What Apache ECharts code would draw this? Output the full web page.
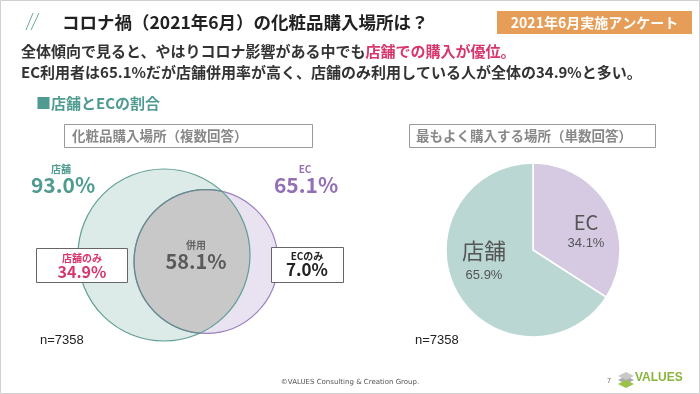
<!DOCTYPE html>
<html><head><meta charset="utf-8">
<script src="https://cdn.jsdelivr.net/npm/echarts@6/dist/echarts.min.js"></script>
<style>html,body{margin:0;padding:0;background:#fff}#c{width:700px;height:394px}</style>
</head><body><div id="c"></div>
<script>
// ---- data ----
const vennLabels = ['店舗', 'EC', '併用', '店舗のみ', 'ECのみ'];
const vennValues = [93.0, 65.1, 58.1, 34.9, 7.0];   // 店舗 total, EC total, overlap, store only, EC only
const pieCategories = ['EC', '店舗'];
const pieValues = [34.1, 65.9];
const sampleSize = 7358;

const JP = '"Noto Sans CJK JP","Noto Sans",sans-serif';
const chart = echarts.init(document.getElementById('c'));

// Venn geometry: circle areas proportional to the totals
const R = 86;
const r = R * Math.sqrt(vennValues[1] / vennValues[0]);
const dist = 42.5;           // layout distance between circle centres
const tilt = 8.8 * Math.PI / 180;

function renderVenn(params, api) {
  const c1 = [164, 255];
  const th = tilt;
  const c2 = [c1[0] + dist * Math.cos(th), c1[1] + dist * Math.sin(th)];
  const a1 = Math.acos((dist*dist + R*R - r*r) / (2*dist*R));
  const a2 = Math.acos((dist*dist + r*r - R*R) / (2*dist*r));
  const bigArc = [], smallArc = [];
  const N = 90;
  for (let i = 0; i <= N; i++) {
    const a = th - a1 + 2*a1*i/N;
    bigArc.push([c1[0] + R*Math.cos(a), c1[1] + R*Math.sin(a)]);
  }
  for (let i = 0; i <= N; i++) {
    const a = th + Math.PI - a2 + 2*a2*i/N;
    smallArc.push([c2[0] + r*Math.cos(a), c2[1] + r*Math.sin(a)]);
  }
  return {
    type: 'group',
    children: [
      {type: 'circle', shape: {cx: c1[0], cy: c1[1], r: R}, style: {fill: '#dcebe8', stroke: null}},
      {type: 'circle', shape: {cx: c2[0], cy: c2[1], r: r}, style: {fill: '#e9e2f0', stroke: null}},
      {type: 'polygon', shape: {points: bigArc.concat(smallArc)}, style: {fill: '#c8c8c8', stroke: null}},
      {type: 'circle', shape: {cx: c2[0], cy: c2[1], r: r}, style: {fill: null, stroke: '#9b80bd', lineWidth: 1.2}},
      {type: 'circle', shape: {cx: c1[0], cy: c1[1], r: R}, style: {fill: null, stroke: '#5f9f95', lineWidth: 1.2}},
      {type: 'polyline', shape: {points: smallArc}, style: {fill: null, stroke: '#5f8f89', lineWidth: 1.2}}
    ]
  };
}

function txt(x, y, text, size, color, weight, align, family) {
  return {type: 'text', z: 10, x: x, y: y, style: {text: text, font: (weight||'normal') + ' ' + size + 'px ' + (family||JP), fill: color, align: align||'left', verticalAlign: 'middle'}};
}
function box(x, y, w, h, stroke) {
  return {type: 'rect', z: 9, shape: {x: x, y: y, width: w, height: h}, style: {fill: '#fff', stroke: stroke, lineWidth: 1}};
}

const graphics = [
  {type: 'rect', z: 0, shape: {x: 0.5, y: 0.5, width: 699, height: 393}, style: {fill: null, stroke: '#d0d0d0', lineWidth: 1}},
  // title
  {type: 'polyline', z: 10, shape: {points: [[26, 30], [33, 13]]}, style: {stroke: '#6aa9a0', lineWidth: 1}},
  {type: 'polyline', z: 10, shape: {points: [[31, 30], [39, 13]]}, style: {stroke: '#6aa9a0', lineWidth: 1}},
  txt(62, 22, 'コロナ禍（2021年6月）の化粧品購入場所は？', 17.5, '#222', 'bold'),
  {type: 'rect', z: 9, shape: {x: 497, y: 11, width: 195, height: 23}, style: {fill: '#e69d57'}},
  txt(594.5, 22.5, '2021年6月実施アンケート', 14, '#fff', 'bold', 'center'),
  // subtitle
  {type: 'text', z: 10, x: 21, y: 51, style: {rich: {a: {font: 'bold 15px ' + JP, fill: '#333'}, b: {font: 'bold 15px ' + JP, fill: '#d8356b'}}, text: '{a|全体傾向で見ると、やはりコロナ影響がある中でも}{b|店舗での購入が優位。}', verticalAlign: 'middle'}},
  txt(21, 72, 'EC利用者は65.1%だが店舗併用率が高く、店舗のみ利用している人が全体の34.9%と多い。', 15, '#333', 'bold'),
  txt(36, 103, '■店舗とECの割合', 15, '#4f9b91', 'bold'),
  // panel title boxes
  box(64.5, 124.5, 248, 23, '#999'),
  txt(72, 136, '化粧品購入場所（複数回答）', 13.5, '#888', 'bold'),
  box(409.5, 124.5, 246, 23, '#999'),
  txt(416, 136, '最もよく購入する場所（単数回答）', 13.5, '#888', 'bold'),
  // venn labels
  txt(61, 169, vennLabels[0], 10, '#4f9b91', 'bold', 'center'),
  txt(63, 185, vennValues[0].toFixed(1) + '%', 21, '#4f9b91', 'bold', 'center'),
  txt(305, 169, vennLabels[1], 10, '#9370b5', 'bold', 'center'),
  txt(306, 185, vennValues[1].toFixed(1) + '%', 21, '#9370b5', 'bold', 'center'),
  txt(196, 245, vennLabels[2], 10, '#666', 'bold', 'center'),
  txt(196, 261, vennValues[2].toFixed(1) + '%', 20, '#5a5a5a', 'bold', 'center'),
  box(36.5, 248.5, 91, 34, '#666'),
  txt(82, 258, vennLabels[3], 10, '#d8356b', 'bold', 'center'),
  txt(82, 272, vennValues[3].toFixed(1) + '%', 16, '#d8356b', 'bold', 'center'),
  box(271.5, 247.5, 72, 35, '#666'),
  txt(307, 256, vennLabels[4], 10, '#222', 'bold', 'center'),
  txt(307, 270, vennValues[4].toFixed(1) + '%', 17, '#222', 'bold', 'center'),
  txt(40, 340, 'n=' + sampleSize, 13, '#222', 'normal', 'left', 'Liberation Sans, sans-serif'),
  txt(415, 340, 'n=' + sampleSize, 13, '#222', 'normal', 'left', 'Liberation Sans, sans-serif'),
  // footer
  txt(350, 382, '©VALUES Consulting & Creation Group.', 7, '#555', 'normal', 'center', 'DejaVu Sans, sans-serif'),
  txt(609, 381, '7', 7, '#777', 'normal', 'center', 'DejaVu Sans, sans-serif'),
  {type: 'polygon', z: 10, shape: {points: [[618, 380], [626, 376], [634, 380], [626, 384]]}, style: {fill: '#aaa'}},
  {type: 'polygon', z: 10, shape: {points: [[618, 384], [626, 380], [634, 384], [626, 388]]}, style: {fill: '#9bc14a'}},
  {type: 'polygon', z: 10, shape: {points: [[618, 376], [626, 372], [634, 376], [626, 380]]}, style: {fill: '#c9c9c9'}},
  txt(635, 378, 'VALUES', 12, '#8ab43e', 'bold', 'left', 'Liberation Sans, sans-serif')
];

const pieLabelRich = {
  n: {fontFamily: JP, fontSize: 20, color: '#555', lineHeight: 22},
  n2: {fontFamily: JP, fontSize: 22, color: '#555', lineHeight: 28},
  v: {fontFamily: 'Liberation Sans, sans-serif', fontSize: 13, color: '#555', lineHeight: 20}
};

chart.setOption({
  animation: false,
  graphic: graphics,
  series: [
    {
      type: 'custom', coordinateSystem: 'none', silent: true, z: 1,
      data: [vennValues], renderItem: renderVenn
    },
    {
      type: 'pie', center: [533, 250], radius: 87, startAngle: 90, clockwise: true, z: 2,
      silent: true,
      itemStyle: {borderColor: '#fff', borderWidth: 1.5},
      data: pieCategories.map((n, i) => ({name: n, value: pieValues[i],
        itemStyle: {color: i === 0 ? '#d6cae2' : '#bad7d3'}})),
      label: {
        position: 'inside',
        formatter: p => (p.dataIndex === 0 ? '{n|' : '{n2|') + p.name + '}\n{v|' + p.value.toFixed(1) + '%}',
        rich: pieLabelRich
      },
      labelLine: {show: false},
      labelLayout: function (p) {
        return p.dataIndex === 0 ? {x: 586, y: 232, align: 'center', verticalAlign: 'middle'}
                                 : {x: 484, y: 261, align: 'center', verticalAlign: 'middle'};
      }
    }
  ]
});
</script></body></html>
